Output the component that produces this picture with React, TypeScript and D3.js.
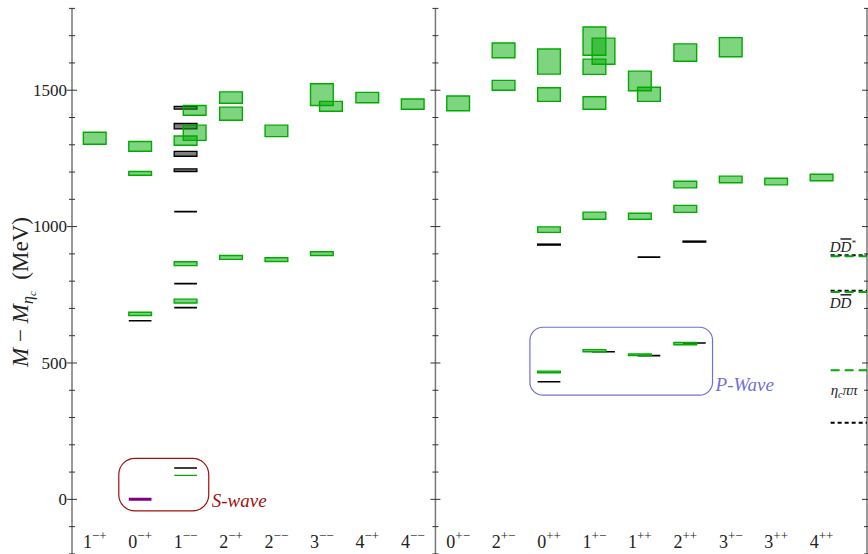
import * as d3 from "d3"

const categories = ["1-+","0-+","1--","2-+","2--","3--","4-+","4--","0+-","2+-","0++","1+-","1++","2++","3+-","3++","4++"]

// [category, shifted right, mass, error] in MeV
const latticeStates: [string, number, number, number][] = [
  ["1-+",0,1324,22],
  ["0-+",0,1294,18],["0-+",0,1195,7],["0-+",0,680,6],
  ["1--",1,1426,18],["1--",1,1344,28],["1--",0,1315,17],["1--",0,864,7],["1--",0,727,7],["1--",0,88,0],
  ["2-+",0,1473,21],["2-+",0,1414,24],["2-+",0,887,7],
  ["2--",0,1351,21],["2--",0,879,7],
  ["3--",0,1484,40],["3--",1,1441,18],["3--",0,901,7],
  ["4-+",0,1473,19],
  ["4--",0,1449,19],
  ["0+-",0,1452,27],
  ["2+-",0,1646,27],["2+-",0,1518,18],
  ["0++",0,1605,46],["0++",0,1484,25],["0++",0,989,10],["0++",0,467,3],
  ["1+-",0,1680,52],["1+-",1,1643,48],["1+-",0,1586,28],["1+-",0,1453,23],["1+-",0,1040,13],["1+-",0,545,4],
  ["1++",0,1534,36],["1++",1,1485,26],["1++",0,1038,11],["1++",0,530,3],
  ["2++",0,1638,32],["2++",0,1154,12],["2++",0,1065,13],["2++",0,571,4],
  ["3+-",0,1658,35],["3+-",0,1173,12],
  ["3++",0,1165,12],
  ["4++",0,1180,12]
]

const experimentStates: [string, number, number, number][] = [
  ["0-+",0,655,0],
  ["1--",0,1436,5],["1--",0,1368,10],["1--",0,1267,9],["1--",0,1207,5],
  ["1--",0,1055,0],["1--",0,791,0],["1--",0,703,0],["1--",0,115,0],
  ["0++",0,934,2],["0++",0,431,0],
  ["1+-",1,541,0],
  ["1++",1,527,0],["1++",1,888,0],
  ["2++",1,573,0],["2++",1,945,2]
]

const referenceStates: [string, number, number, number][] = [["0-+",0,0,0]]

const thresholdLattice = [891, 760, 473]
const thresholdPhysical = [895, 765, 281]

const majorTicks = [0, 500, 1000, 1500]
const minorTicks = d3.range(-200, 1801, 100)

const W = 868
const H = 554
const font = "'Liberation Serif', 'DejaVu Serif', serif"

const x = d3.scaleLinear().domain([-0.5, 17]).range([72, 867])
const y = d3.scaleLinear().domain([-200, 1800]).range([553.9, 8.4])

const halfW = 0.25
const shift = 0.2

function levelPath(s: [string, number, number, number]) {
  const c = categories.indexOf(s[0]) + s[1] * shift
  const x0 = x(c - halfW), x1 = x(c + halfW)
  const y0 = y(s[2] + s[3]), y1 = y(s[2] - s[3])
  return `M${x0},${y0}H${x1}V${y1}H${x0}Z`
}

function pretty(s: string) {
  return s.replace(/-/g, "\u2212")
}

export default function App() {
  const axesX = [-0.5, 7.5, 17]
  const sBox = { x0: 0.53, x1: 2.51, y0: -42, y1: 150 }
  const pBox = { x0: 9.58, x1: 13.6, y0: 382, y1: 631 }
  const thX0 = x(16.2), thX1 = x(17)

  return (
    <svg width={W} height={H} style={{ position: "absolute", left: 0, top: 0, background: "#fff" }} fontFamily={font}>
      {/* axes */}
      {axesX.map((a, i) => (
        <g key={i}>
          <line x1={x(a)} x2={x(a)} y1={y(1800)} y2={H} stroke="#777" strokeWidth={1.5} />
          {minorTicks.map(t => {
            const major = majorTicks.includes(t)
            const l = major ? 5 : 3
            return <line key={t} x1={x(a) - l} x2={x(a) + l} y1={y(t)} y2={y(t)} stroke="#333" strokeWidth={1} />
          })}
        </g>
      ))}
      {majorTicks.map(t => (
        <text key={t} x={67} y={y(t)} dy="0.33em" textAnchor="end" fontSize={17} fill="#222">{t}</text>
      ))}

      {/* y label */}
      <text transform={`translate(28,${292}) rotate(-90)`} textAnchor="middle" fontSize={23} fill="#222">
        <tspan fontStyle="italic">M</tspan>
        <tspan> {"\u2212"} </tspan>
        <tspan fontStyle="italic">M</tspan>
        <tspan fontStyle="italic" fontSize={16} dy={5}>{"\u03b7"}</tspan>
        <tspan fontStyle="italic" fontSize={11} dy={3}>c</tspan>
        <tspan dy={-8}>{"\u2002(MeV)"}</tspan>
      </text>

      {/* category labels */}
      {categories.map((c, i) => (
        <text key={c} x={x(i)} y={548} textAnchor="middle" fontSize={18} fill="#222">
          <tspan>{c[0]}</tspan>
          <tspan fontSize={13} dy={-8}>{pretty(c.slice(1))}</tspan>
        </text>
      ))}

      {/* experimental levels */}
      {experimentStates.map((s, i) => (
        <path key={"e" + i} d={levelPath(s)} fill="#000" fillOpacity={0.5} stroke="#000" strokeWidth={s[3] ? 1.3 : 1.6} />
      ))}

      {/* lattice levels */}
      {latticeStates.map((s, i) => (
        <path key={"l" + i} d={levelPath(s)} fill="#00aa00" fillOpacity={0.5} stroke="#00aa00" strokeWidth={1.4} />
      ))}

      {referenceStates.map((s, i) => (
        <path key={"r" + i} d={levelPath(s)} fill="none" stroke="#800080" strokeWidth={3} />
      ))}

      {/* thresholds */}
      {thresholdPhysical.map((t, i) => (
        <line key={"tp" + i} x1={thX0} x2={thX1} y1={y(t)} y2={y(t)} stroke="#000" strokeWidth={2} strokeDasharray="4,3" />
      ))}
      {thresholdLattice.map((t, i) => (
        <line key={"tl" + i} x1={thX0} x2={thX1} y1={y(t)} y2={y(t)} stroke="#00aa00" strokeWidth={2} strokeDasharray="9,5" />
      ))}
      <text x={thX0 - 1} y={y(thresholdPhysical[0]) - 3} fontSize={15} fontStyle="italic" fill="#222">
        D<tspan textDecoration="overline">D</tspan><tspan fontSize={9} dy={-6}>*</tspan>
      </text>
      <text x={thX0 - 1} y={y(thresholdLattice[1]) + 16} fontSize={15} fontStyle="italic" fill="#222">
        D<tspan textDecoration="overline">D</tspan>
      </text>
      <text x={thX0} y={y(thresholdLattice[2]) + 25} fontSize={15} fontStyle="italic" fill="#222">
        {"\u03b7"}<tspan fontSize={10} dy={3}>c</tspan><tspan dy={-3}>{"\u03c0\u03c0"}</tspan>
      </text>

      {/* annotations */}
      <rect x={x(sBox.x0)} y={y(sBox.y1)} width={x(sBox.x1) - x(sBox.x0)} height={y(sBox.y0) - y(sBox.y1)}
        rx={16} fill="none" stroke="#a01010" strokeWidth={1.2} />
      <text x={x(sBox.x1) + 3} y={507} fontSize={19} fontStyle="italic" fill="#a01010">S-wave</text>
      <rect x={x(pBox.x0)} y={y(pBox.y1)} width={x(pBox.x1) - x(pBox.x0)} height={y(pBox.y0) - y(pBox.y1)}
        rx={13} fill="none" stroke="#7070d8" strokeWidth={1.2} />
      <text x={x(pBox.x1) + 3} y={391} fontSize={19} fontStyle="italic" fill="#7070d8">P-Wave</text>
    </svg>
  )
}
